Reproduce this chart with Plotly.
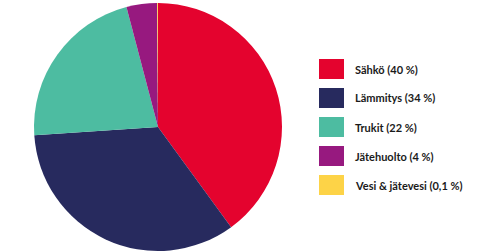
import plotly.graph_objects as go

labels = ["Sähkö", "Lämmitys", "Trukit", "Jätehuolto", "Vesi & jätevesi"]
values = [40, 34, 22, 4, 0.1]
value_labels = ["40 %", "34 %", "22 %", "4 %", "0,1 %"]
colors = ["#e4032e", "#272a5e", "#4dbca1", "#97197f", "#fdd347"]

W, H = 500, 252

fig = go.Figure(go.Pie(
    labels=labels, values=values, sort=False, direction="clockwise", rotation=0,
    marker=dict(colors=colors, line=dict(width=0)),
    textinfo="none", hoverinfo="label+percent",
    domain=dict(x=[34 / W, 282 / W], y=[1 - 251 / H, 1 - 3 / H]),
    showlegend=False,
))

shapes = []
annotations = []
sw_x0, sw_w, sw_h, top0, step, text_x = 319, 25, 20, 59, 29, 353
for i, (lab, vl, c) in enumerate(zip(labels, value_labels, colors)):
    y0 = top0 + i * step
    shapes.append(dict(type="rect", xref="paper", yref="paper",
                       x0=sw_x0 / W, x1=(sw_x0 + sw_w) / W,
                       y0=1 - (y0 + sw_h) / H, y1=1 - y0 / H,
                       fillcolor=c, line=dict(width=0)))
    annotations.append(dict(xref="paper", yref="paper", x=text_x / W,
                            y=1 - (y0 + sw_h / 2) / H, xanchor="left", yanchor="middle",
                            text=f"{lab} ({vl})", showarrow=False,
                            font=dict(family="Lato", size=11, color="#1a1a1a", weight=700)))

fig.update_layout(width=W, height=H, margin=dict(l=0, r=0, t=0, b=0),
                  paper_bgcolor="white", plot_bgcolor="white",
                  shapes=shapes, annotations=annotations)
fig.write_html("out.html")
